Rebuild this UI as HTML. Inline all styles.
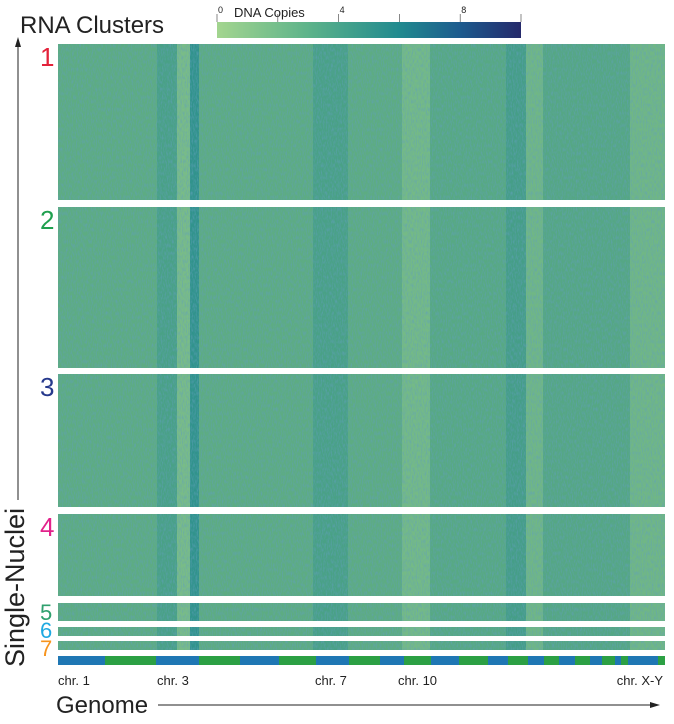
<!DOCTYPE html>
<html><head><meta charset="utf-8"><style>
body{margin:0;background:#fff;}
svg text{font-family:"Liberation Sans",sans-serif;}
</style></head><body>
<svg id="chart" width="674" height="719" xmlns="http://www.w3.org/2000/svg">
<defs>
<linearGradient id="cb" x1="0" x2="1" y1="0" y2="0">
<stop offset="0" stop-color="#a3d58f"/><stop offset="0.3" stop-color="#5db38a"/><stop offset="0.6" stop-color="#218a8f"/><stop offset="0.8" stop-color="#1d5b8e"/><stop offset="1" stop-color="#252a6b"/>
</linearGradient>
<filter id="noise" x="0" y="0" width="1" height="1" filterUnits="objectBoundingBox">
<feTurbulence type="fractalNoise" baseFrequency="0.8 0.25" numOctaves="2" seed="3" result="t"/>
<feColorMatrix in="t" type="matrix" values="0 0 0 0 0.12  0 0 0 0 0.35  0 0 0 0 0.5  2.2 0 0 0 -0.85"/>
</filter>
</defs>
<text x="20" y="33" font-size="24" fill="#222">RNA Clusters</text>
<g id="colorbar">
<text x="234" y="17" font-size="13" fill="#222">DNA Copies</text>
<rect x="217" y="22" width="304" height="16" fill="url(#cb)"/>
</g>
<g id="heat"></g>
<g id="chrbar"></g>
<g id="chrlabels"></g>
<g>
<line x1="18" y1="500" x2="18" y2="46" stroke="#222" stroke-width="1"/>
<polygon points="18,37 15,47 21,47" fill="#222"/>
<text transform="translate(24,667) rotate(-90)" font-size="27" fill="#222">Single-Nuclei</text>
</g>
<g>
<text x="56" y="713" font-size="24" fill="#222">Genome</text>
<line x1="158" y1="705" x2="652" y2="705" stroke="#222" stroke-width="1"/>
<polygon points="660,705 650,702 650,708" fill="#222"/>
</g>
</svg>
<script>
const clusterNames = ['1','2','3','4','5','6','7'];
const clusterTop = [44,207,374,514,603,627,641];
const clusterBottom = [200,368,507,596,621,636,650];
const clusterColors = ['#e3223a','#20a04f','#26398c','#e2228b','#2fa06e','#1fa9e1','#f7941d'];
const segStart = [58,157,177,190,199,313,348,402,430,506,526,543,630];
const segEnd   = [157,177,190,199,313,348,402,430,506,526,543,630,665];
const segCopy  = [3.0,4.0,1.8,5.2,3.0,4.0,3.0,2.0,3.3,4.2,2.2,3.4,2.2];
const chrBounds = [58,105,156,199,240,279,316,349,380,404,431,459,488,508,528,544,559,575,590,602,615,621,628,658,665];
const chrTicks = ['chr. 1','chr. 3','chr. 7','chr. 10','chr. X-Y'];
const chrTickX = [58,157,315,398,585];
const cbTicks = [0,2,4,6,8,10];
const cbLabels = ['0','4','8'];
const cbLabelVals = [0,4,8];

const NS='http://www.w3.org/2000/svg';
const cbX = v => 217 + v/10*304;
function copyColor(c){
  const stops=[[0,[163,213,143]],[3,[93,172,130]],[6,[33,138,143]],[8,[29,91,142]],[10,[37,42,107]]];
  for(let i=0;i<stops.length-1;i++){
    if(c<=stops[i+1][0]){const t=(c-stops[i][0])/(stops[i+1][0]-stops[i][0]);
      const a=stops[i][1],b=stops[i+1][1];
      return 'rgb('+a.map((v,k)=>Math.round(v+(b[k]-v)*t)).join(',')+')';}
  }
  return 'rgb(37,42,107)';
}
function mk(tag,attrs,parent){const e=document.createElementNS(NS,tag);for(const k in attrs)e.setAttribute(k,attrs[k]);parent.appendChild(e);return e;}
const cb=document.getElementById('colorbar');
cbTicks.forEach(v=>{const l=mk('line',{x1:cbX(v),x2:cbX(v),y1:14,y2:22,stroke:'#555','stroke-width':0.7},cb);

});
cbLabelVals.forEach((v,i)=>{const t=mk('text',{x:cbX(v)+1,y:13,'font-size':9,fill:'#222'},cb);t.textContent=cbLabels[i];

});
const heat=document.getElementById('heat');
const labelY=[66,229,396,536,620,638,656];
clusterNames.forEach((n,ci)=>{
  const g=mk('g',{},heat);
  
  
  const h=clusterBottom[ci]-clusterTop[ci];
  segStart.forEach((s,si)=>{
    const r=mk('rect',{x:s,y:clusterTop[ci],width:segEnd[si]-s,height:h,fill:copyColor(segCopy[si])},g);
    
    
  });
  const nz=mk('rect',{x:58,y:clusterTop[ci],width:607,height:h,fill:'#000',filter:'url(#noise)',opacity:0.6},g);
  
  
  const big=h>40;
  const t=mk('text',{x:40,y:labelY[ci],'font-size':big?26:22,fill:clusterColors[ci]},g);
  t.textContent=n;
  
  
});
const cbar=document.getElementById('chrbar');
for(let i=0;i<chrBounds.length-1;i++){
  const r=mk('rect',{x:chrBounds[i],y:656,width:chrBounds[i+1]-chrBounds[i],height:9,fill:i%2?'#2ca044':'#1f77b4'},cbar);
  
  
}
const cl=document.getElementById('chrlabels');
chrTicks.forEach((s,i)=>{const t=mk('text',{x:chrTickX[i],y:685,'font-size':13,fill:'#222'},cl);t.textContent=s;
if(i===chrTicks.length-1){t.setAttribute('x',663);t.setAttribute('text-anchor','end');}

});
</script>
</body></html>
